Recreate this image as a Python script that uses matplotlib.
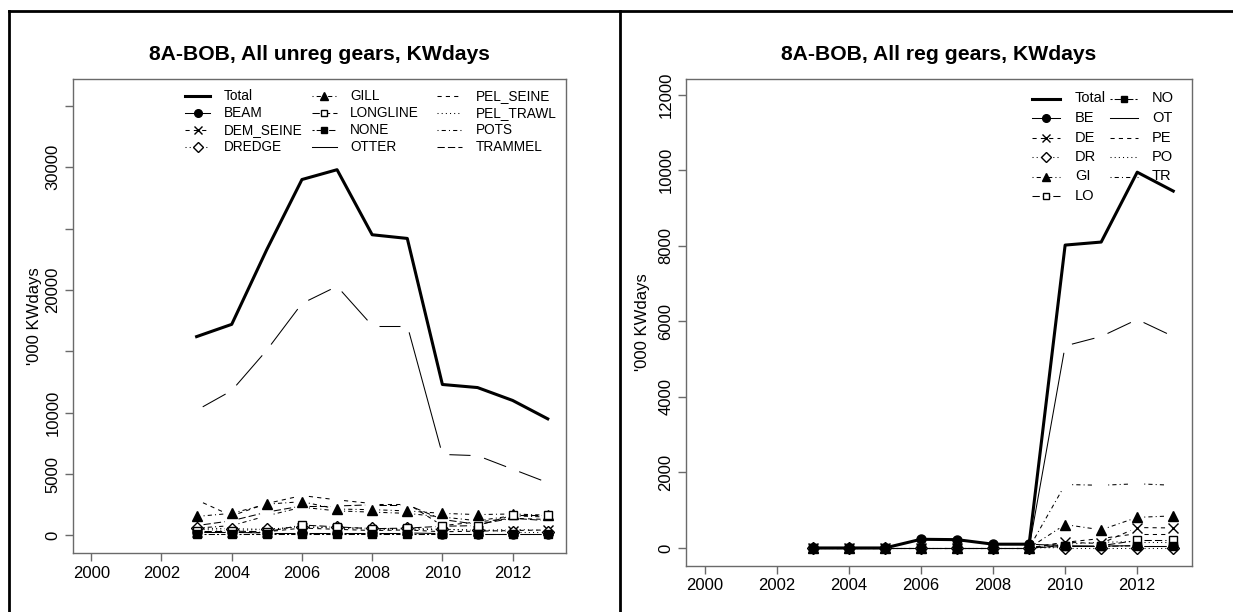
import matplotlib
matplotlib.use("Agg")
import matplotlib.pyplot as plt
import numpy as np
from matplotlib.lines import Line2D

plt.rcParams["font.family"] = ["Liberation Sans", "DejaVu Sans"]

years = [2003, 2004, 2005, 2006, 2007, 2008, 2009, 2010, 2011, 2012, 2013]

# ---- left panel: unregulated gears ('000 KWdays) ----
unreg_names = ["BEAM", "DEM_SEINE", "DREDGE", "GILL", "LONGLINE", "NONE",
               "OTTER", "PEL_SEINE", "PEL_TRAWL", "POTS", "TRAMMEL"]
unreg_total = [16200, 17200, 23300, 29000, 29800, 24500, 24200, 12300, 12050, 11000, 9500]
unreg_beam = [250, 250, 200, 200, 200, 200, 200, 150, 150, 150, 150]
unreg_dem_seine = [300, 300, 300, 600, 500, 400, 450, 300, 350, 400, 450]
unreg_dredge = [600, 550, 500, 700, 650, 600, 600, 500, 450, 300, 300]
unreg_gill = [1550, 1800, 2550, 2750, 2150, 2100, 2000, 1800, 1700, 1750, 1650]
unreg_longline = [350, 350, 300, 850, 700, 550, 600, 750, 800, 1650, 1650]
unreg_none = [100, 100, 100, 100, 100, 100, 100, 100, 100, 100, 100]
unreg_otter = [10200, 11800, 15100, 18900, 20300, 17100, 17100, 6600, 6500, 5400, 4300]
unreg_pel_seine = [2900, 1600, 2600, 3250, 2900, 2600, 2600, 800, 1100, 1400, 1300]
unreg_pel_trawl = [500, 400, 500, 700, 600, 500, 500, 500, 400, 500, 400]
unreg_pots = [600, 800, 1600, 2300, 2000, 1900, 1800, 1500, 1200, 1600, 1500]
unreg_trammel = [800, 1200, 1900, 2400, 2400, 2500, 2500, 1300, 900, 1400, 1200]
unreg_series = [unreg_beam, unreg_dem_seine, unreg_dredge, unreg_gill, unreg_longline,
                unreg_none, unreg_otter, unreg_pel_seine, unreg_pel_trawl, unreg_pots,
                unreg_trammel]

# ---- right panel: regulated gears ('000 KWdays) ----
reg_names = ["BE", "DE", "DR", "GI", "LO", "NO", "OT", "PE", "PO", "TR"]
reg_total = [0, 0, 0, 230, 220, 100, 100, 8020, 8100, 9950, 9450]
reg_be = [0, 0, 0, 230, 220, 100, 100, 60, 50, 60, 60]
reg_de = [0, 0, 0, 0, 0, 0, 0, 150, 120, 540, 530]
reg_dr = [0, 0, 0, 0, 0, 0, 0, 10, 10, 10, 10]
reg_gi = [0, 0, 0, 0, 0, 0, 0, 620, 480, 810, 850]
reg_lo = [0, 0, 0, 0, 0, 0, 0, 60, 60, 200, 200]
reg_no = [0, 0, 0, 0, 0, 0, 0, 40, 40, 60, 60]
reg_ot = [0, 0, 0, 0, 0, 0, 0, 5350, 5600, 6050, 5600]
reg_pe = [0, 0, 0, 0, 0, 0, 0, 150, 250, 380, 380]
reg_po = [0, 0, 0, 0, 0, 0, 0, 100, 150, 170, 170]
reg_tr = [0, 0, 0, 0, 0, 0, 0, 1680, 1660, 1700, 1660]
reg_series = [reg_be, reg_de, reg_dr, reg_gi, reg_lo, reg_no, reg_ot, reg_pe, reg_po, reg_tr]

# R-like line types (lty 1..6) and point symbols per gear
LTY = {
    1: "-",
    2: (0, (4, 4)),
    3: (0, (1, 3)),
    4: (0, (1, 3, 4, 3)),
    5: (0, (7, 3)),
    6: (0, (2, 2, 6, 2)),
}
gear_lty = [1, 2, 3, 4, 5, 6, 1, 2, 3, 4, 5]
gear_marker = [("o", True), ("x", True), ("D", False), ("^", True), ("s", False),
               ("s", True), (None, True), (None, True), (None, True), (None, True),
               (None, True)]
MS = {"o": 6.5, "x": 6.5, "D": 6.0, "^": 7.0, "s": 6.0}
LW = 0.75
GAP = 7.0  # px gap around each point, like R type="b"


def draw_b(ax, x, y, ls, marker, filled):
    """Line with gaps around points + markers (R type='b')."""
    pts = ax.transData.transform(np.column_stack([x, y]))
    inv = ax.transData.inverted()
    for p0, p1 in zip(pts[:-1], pts[1:]):
        d = p1 - p0
        n = np.hypot(*d)
        if n <= 2 * GAP:
            continue
        u = d / n
        seg = inv.transform(np.vstack([p0 + u * GAP, p1 - u * GAP]))
        ax.plot(seg[:, 0], seg[:, 1], color="black", lw=LW, ls=ls,
                solid_capstyle="butt", dash_capstyle="butt")
    if marker:
        ax.plot(x, y, ls="none", marker=marker, ms=MS[marker],
                mfc="black" if filled else "white", mec="black", mew=1.0)


def fx(px):
    return px / 1233


def fy(py):
    return 1 - py / 612


def draw_legend(fig, names, col_line_x, col_text_x, row_y, line_len, fontsize):
    """R-style legend (bty='n'), filled column by column, equal column widths."""
    nrows = len(row_y)
    entries = [("Total", "-", None, True, 2.2)]
    for i, nm in enumerate(names):
        mk, filled = gear_marker[i]
        entries.append((nm, LTY[gear_lty[i]], mk, filled, LW))
    for k, (label, ls, mk, filled, lw) in enumerate(entries):
        c, r = divmod(k, nrows)
        x0, y0 = col_line_x[c], row_y[r]
        fig.add_artist(Line2D([fx(x0), fx(x0 + line_len)], [fy(y0), fy(y0)],
                              transform=fig.transFigure, color="black", lw=lw,
                              ls=ls))
        if mk:
            fig.add_artist(Line2D([fx(x0 + line_len / 2)], [fy(y0)],
                                  transform=fig.transFigure, ls="none",
                                  marker=mk, ms=MS[mk] - 1,
                                  mfc="black" if filled else "white",
                                  mec="black", mew=1.0))
        fig.text(fx(col_text_x[c]), fy(y0), label, ha="left", va="center",
                 fontsize=fontsize)


def style_axes(ax, yticks, ylabels):
    for s in ax.spines.values():
        s.set_color("#6a6a6a")
        s.set_linewidth(1.0)
    ax.set_xticks(range(2000, 2013, 2))
    ax.set_yticks(yticks)
    ax.set_yticklabels(ylabels)
    ax.tick_params(axis="both", colors="#6a6a6a", labelcolor="black",
                   labelsize=12, length=6, width=1.0, pad=3)
    ax.tick_params(axis="y", labelrotation=90)
    for t in ax.get_yticklabels():
        t.set_va("center")


fig = plt.figure(figsize=(12.33, 6.12), dpi=100)
xlim = (2000 - 0.04 * 13, 2013 + 0.04 * 13)

# left panel
axl = fig.add_axes([fx(73), fy(553), fx(566) - fx(73), fy(79) - fy(553)])
top_l = 1.2 * max(unreg_total)
axl.set_xlim(*xlim)
axl.set_ylim(-0.04 * top_l, 1.04 * top_l)
yt_l = list(range(0, 35001, 5000))
style_axes(axl, yt_l, ["0", "5000", "10000", "", "20000", "", "30000", ""])
for i, s in enumerate(unreg_series):
    mk, filled = gear_marker[i]
    draw_b(axl, years, s, LTY[gear_lty[i]], mk, filled)
axl.plot(years, unreg_total, color="black", lw=2.2)
draw_legend(fig, unreg_names, [185, 312, 437], [224, 350, 476],
            [96, 113, 130, 147], 25, 9.8)

# right panel
axr = fig.add_axes([fx(686), fy(566), fx(1192) - fx(686), fy(79) - fy(566)])
top_r = 1.2 * max(reg_total)
axr.set_xlim(*xlim)
axr.set_ylim(-0.04 * top_r, 1.04 * top_r)
yt_r = list(range(0, 12001, 2000))
style_axes(axr, yt_r, [str(v) for v in yt_r])
for i, s in enumerate(reg_series):
    mk, filled = gear_marker[i]
    draw_b(axr, years, s, LTY[gear_lty[i]], mk, filled)
axr.plot(years, reg_total, color="black", lw=2.2)
draw_legend(fig, reg_names, [1032, 1110], [1075, 1152],
            [98.5, 118, 137.5, 157, 176.5, 196], 28, 10.5)

# titles and y labels
fig.text(fx(319.5), fy(54.5), "8A-BOB, All unreg gears, KWdays",
         ha="center", va="center", fontsize=15.2, fontweight="bold")
fig.text(fx(939), fy(54.5), "8A-BOB, All reg gears, KWdays",
         ha="center", va="center", fontsize=15.2, fontweight="bold")
fig.text(fx(35), fy(316), "'000 KWdays", rotation=90, ha="center",
         va="center", fontsize=12)
fig.text(fx(643), fy(322), "'000 KWdays", rotation=90, ha="center",
         va="center", fontsize=12)

# outer frames
for xs, ys in [((fx(9), fx(1233)), (fy(11), fy(11))),
               ((fx(9), fx(9)), (fy(11), 0)),
               ((fx(620), fx(620)), (fy(11), 0))]:
    fig.add_artist(Line2D(xs, ys, transform=fig.transFigure, color="black",
                          lw=2.0))

fig.savefig("out.png", dpi=100)
